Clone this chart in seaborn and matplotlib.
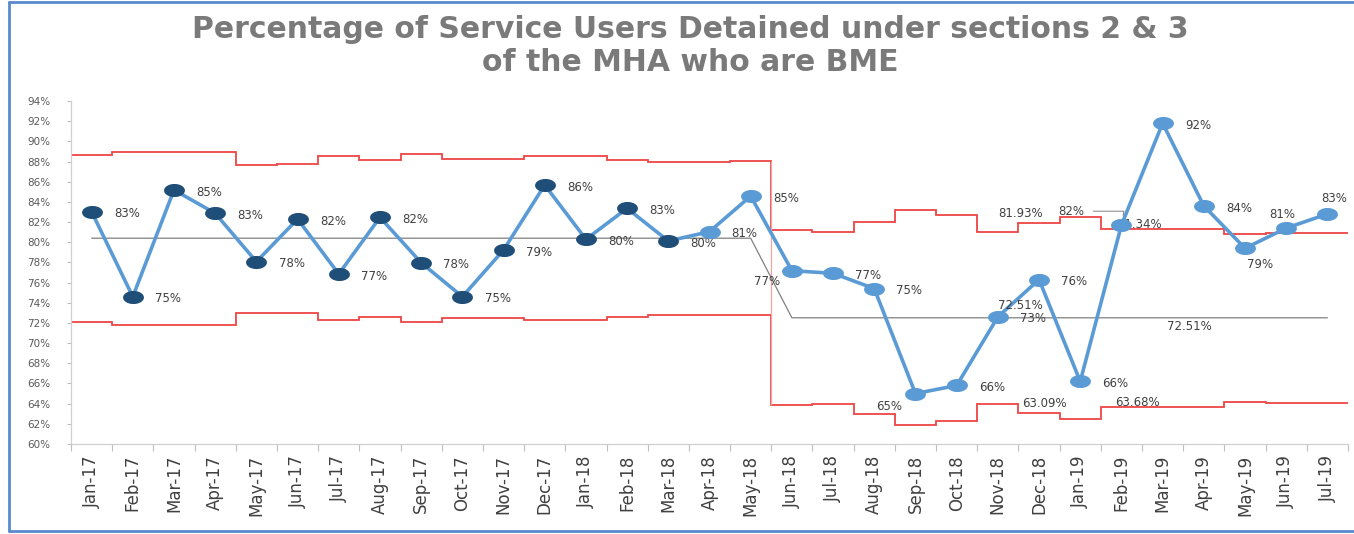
import numpy as np
import matplotlib
matplotlib.use("Agg")
import matplotlib.pyplot as plt
from matplotlib.path import Path
from matplotlib.lines import Line2D
import seaborn as sns

# ---- data -------------------------------------------------------------
months = ["Jan-17", "Feb-17", "Mar-17", "Apr-17", "May-17", "Jun-17", "Jul-17",
          "Aug-17", "Sep-17", "Oct-17", "Nov-17", "Dec-17", "Jan-18", "Feb-18",
          "Mar-18", "Apr-18", "May-18", "Jun-18", "Jul-18", "Aug-18", "Sep-18",
          "Oct-18", "Nov-18", "Dec-18", "Jan-19", "Feb-19", "Mar-19", "Apr-19",
          "May-19", "Jun-19", "Jul-19"]

# percentage of detained service users who are BME
pct_bme = [83.03, 74.60, 85.18, 82.87, 78.07, 82.30, 76.85, 82.47, 77.97, 74.60,
           79.23, 85.67, 80.29, 83.36, 80.12, 81.05, 84.58, 77.18, 76.92, 75.40,
           65.00, 65.80, 72.60, 76.30, 66.20, 81.70, 91.80, 83.60, 79.40, 81.40,
           82.80]

# process mean (two periods)
centre = [80.4] * 17 + [72.51] * 14

# upper / lower control limits
ucl = [88.65, 88.90, 88.90, 88.90, 87.70, 87.80, 88.50, 88.20, 88.70, 88.25,
       88.25, 88.50, 88.50, 88.20, 88.00, 88.00, 88.05,
       81.20, 81.05, 82.00, 83.15, 82.70, 81.05, 81.93, 82.50, 81.34, 81.34,
       81.34, 80.85, 80.95, 80.95]
lcl = [72.10, 71.80, 71.80, 71.80, 73.00, 73.00, 72.30, 72.55, 72.10, 72.50,
       72.50, 72.30, 72.30, 72.55, 72.80, 72.80, 72.75,
       63.82, 63.97, 63.02, 61.87, 62.32, 63.97, 63.09, 62.52, 63.68, 63.68,
       63.68, 64.17, 64.07, 64.07]

y_ticks = list(range(60, 96, 2))
n_dark = 15  # months Jan-17 .. Mar-18 drawn with dark markers

title = "Percentage of Service Users Detained under sections 2 & 3\nof the MHA who are BME"

# ---- style ------------------------------------------------------------
sns.set_theme(style="white")
plt.rcParams["font.family"] = ["DejaVu Sans"]

LINE_BLUE = "#5B9BD5"
DARK_BLUE = "#1F4E79"
RED = "#EE4444"
TXT = "#404040"

fig = plt.figure(figsize=(13.54, 5.34), dpi=100)
W, H = 1354, 534
ax = fig.add_axes([71 / W, (H - 444) / H, (1348 - 71) / W, (444 - 101) / H])
ax.set_facecolor("white")

x = np.arange(len(months))
edges = np.arange(len(months) + 1) - 0.5

# control limits as step lines spanning each month
ax.stairs(ucl, edges, baseline=None, color=RED, lw=1.3, zorder=1)
ax.stairs(lcl, edges, baseline=None, color=RED, lw=1.3, zorder=1)
ax.vlines(16.5, lcl[17], ucl[16], color="#F4A6A6", lw=0.9, zorder=1)

# centre line
sns.lineplot(x=x, y=centre, ax=ax, color="#808080", lw=0.9, zorder=2)

# main series
sns.lineplot(x=x, y=pct_bme, ax=ax, color=LINE_BLUE, lw=2.6, zorder=3)

theta = np.linspace(0, 2 * np.pi, 48)
ellipse = Path(np.c_[np.cos(theta), 0.6 * np.sin(theta)], closed=True)
ax.plot(x[:n_dark], pct_bme[:n_dark], ls="none", marker=ellipse, ms=14,
        mfc=DARK_BLUE, mec=DARK_BLUE, zorder=5)
ax.plot(x[n_dark:], pct_bme[n_dark:], ls="none", marker=ellipse, ms=14,
        mfc=LINE_BLUE, mec=LINE_BLUE, zorder=5)

# data labels: default to the right of each point
special = {
    17: (-18, -8, "center"),
    20: (-19, -9, "center"),
    28: (11, -11.5, "center"),
    29: (-3, 9.5, "center"),
    30: (5, 11.5, "center"),
}
for i, v in enumerate(pct_bme):
    if i == 25:
        ax.annotate(f"{v:.0f}%", (i, v), xytext=(-36, 10), textcoords="offset points",
                    ha="center", va="center", fontsize=8.5, color=TXT, zorder=4,
                    arrowprops=dict(arrowstyle="-", color="#808080", lw=0.7,
                                    shrinkA=4, shrinkB=7,
                                    connectionstyle="angle,angleA=0,angleB=80,rad=0"))
        continue
    dx, dy, ha = special.get(i, (16, -1.5, "left"))
    ax.annotate(f"{v:.0f}%", (i, v), xytext=(dx, dy), textcoords="offset points",
                ha=ha, va="center", fontsize=8.5, color=TXT, zorder=4)

# labels on limit and centre lines
limit_labels = [
    (22, centre[22], 16.5, 8.5),
    (23, ucl[23], -13, 7),
    (23, lcl[23], 4, 7),
    (25, ucl[25], 13, 3),
    (25, lcl[25], 11.5, 3.5),
    (26, centre[26], 19.5, -6),
]
for i, v, dx, dy in limit_labels:
    ax.annotate(f"{v:.2f}%", (i, v), xytext=(dx, dy), textcoords="offset points",
                ha="center", va="center", fontsize=8.5, color=TXT, zorder=4)

# axes
ax.set_xlim(-0.5, len(months) - 0.5)
ax.set_ylim(60, 94)
ax.set_yticks(y_ticks)
ax.set_yticklabels([f"{t}%" for t in y_ticks], fontsize=7.5, color="#595959")
ax.set_xticks(x)
ax.set_xticklabels(months, rotation=90, fontsize=12, color=TXT)
ax.set_xticks(edges, minor=True)
ax.tick_params(axis="x", which="major", length=0, pad=8)
ax.tick_params(axis="x", which="minor", length=5, color="#BFBFBF", width=0.8,
               direction="out", bottom=True)
ax.tick_params(axis="y", which="major", length=3, color="#BFBFBF", width=0.8,
               direction="out", left=True, pad=12)
ax.set_xlabel("")
ax.set_ylabel("")
for side in ("top", "right"):
    ax.spines[side].set_visible(False)
for side in ("left", "bottom"):
    ax.spines[side].set_color("#D0D0D0")
    ax.spines[side].set_linewidth(0.9)
ax.grid(False)

fig.text(690 / W, (H - 46) / H, title, ha="center", va="center", fontsize=21.5,
         fontweight="bold", color="#7A7A7A", linespacing=1.2)

# chart frame
frame = dict(transform=fig.transFigure, color="#5A8ACB", lw=2)
fig.add_artist(Line2D([9 / W, 9 / W], [3 / H, 1 - 2 / H], **frame))
fig.add_artist(Line2D([9 / W, 1], [1 - 2 / H, 1 - 2 / H], **frame))
fig.add_artist(Line2D([9 / W, 1], [3 / H, 3 / H], **frame))

fig.savefig("out.png", dpi=100, facecolor="white")
